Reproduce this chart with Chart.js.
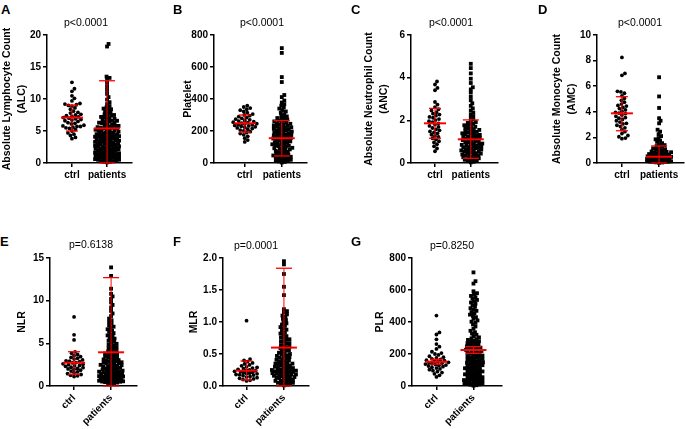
<!DOCTYPE html>
<html>
<head>
<meta charset="utf-8">
<script src="https://cdn.jsdelivr.net/npm/chart.js@4.4.0/dist/chart.umd.min.js"></script>
<style>
body { margin: 0; background: #fff; width: 685px; height: 429px; position: relative; overflow: hidden; font-family: "Liberation Sans", Arial, sans-serif; }
canvas { position: absolute; }
.letter { position: absolute; font-weight: bold; font-size: 13px; line-height: 13px; color: #000; }
.pval { position: absolute; font-size: 10.5px; line-height: 12px; color: #000; white-space: nowrap; transform: translateX(-50%); }
</style>
</head>
<body>
<script>
var groups = ['ctrl', 'patients'];

// A - Absolute Lymphocyte Count
var alcCtrl = [12.6, 11.6, 11.2, 10.5, 10.1, 9.7, 9.3, 9.2, 9.1, 9.0, 8.9, 8.6, 8.4, 8.1, 7.9, 7.8, 7.6, 7.5, 7.4, 7.3, 7.2, 7.1, 7.0, 6.9, 6.8, 6.7, 6.6, 6.5, 6.3, 6.2, 6.1, 5.9, 5.8, 5.7, 5.7, 5.6, 5.5, 5.4, 5.2, 5.0, 4.7, 4.5, 4.3, 4.0, 3.8];
var alcPatients = [0.1, 0.2, 0.3, 0.3, 0.4, 0.5, 0.6, 0.6, 0.7, 0.8, 0.8, 0.9, 0.9, 0.2, 0.5, 0.7,
  1.0, 1.1, 1.1, 1.2, 1.3, 1.3, 1.4, 1.5, 1.5, 1.6, 1.6, 1.7, 1.8, 1.8, 1.9, 1.9, 1.2, 1.4,
  2.0, 2.1, 2.1, 2.2, 2.3, 2.3, 2.4, 2.5, 2.5, 2.6, 2.6, 2.7, 2.8, 2.8, 2.9, 2.9, 2.2, 2.4,
  3.0, 3.0, 3.1, 3.2, 3.2, 3.3, 3.4, 3.4, 3.5, 3.5, 3.6, 3.6, 3.7, 3.8, 3.8, 3.9, 3.9, 3.1, 3.3, 3.7,
  4.0, 4.0, 4.1, 4.2, 4.2, 4.3, 4.3, 4.4, 4.4, 4.5, 4.5, 4.6, 4.7, 4.7, 4.8, 4.8, 4.9, 4.1, 4.3, 4.6,
  5.0, 5.1, 5.1, 5.2, 5.3, 5.4, 5.4, 5.5, 5.6, 5.6, 5.7, 5.8, 5.9, 5.2, 5.5, 5.8,
  6.0, 6.1, 6.2, 6.3, 6.4, 6.5, 6.6, 6.7, 6.8, 6.9, 6.3, 6.6,
  7.0, 7.2, 7.3, 7.5, 7.6, 7.8, 7.9, 7.1, 7.4,
  8.1, 8.3, 8.5, 8.7, 8.9, 8.4,
  9.2, 9.5, 9.9,
  10.3, 10.8, 11.4, 11.9, 12.5, 13.0, 13.3, 13.5, 18.2, 18.6];
var alcMean = [7.1, 5.4];
var alcLow = [5.0, 0];
var alcHigh = [9.05, 12.85];
var alcTicks = [0, 5, 10, 15, 20];

// B - Platelet
var pltCtrl = [358, 350, 343, 336, 330, 322, 314, 306, 300, 296, 290, 284, 279, 274, 270, 266, 262, 258, 255, 252, 249, 246, 243, 240, 238, 235, 232, 229, 226, 223, 219, 215, 211, 206, 201, 196, 190, 184, 176, 167, 155, 143, 132];
var pltPatients = [3, 7, 10, 14, 17, 20, 24, 27, 30, 33, 36, 39, 42, 45, 47, 49,
  53, 57, 60, 64, 68, 71, 75, 78, 82, 85, 89, 92, 95, 98,
  102, 105, 108, 111, 114, 117, 120, 123, 126, 129, 132, 135, 139, 142, 145, 148,
  151, 153, 156, 159, 161, 164, 167, 170, 172, 175, 178, 181, 184, 187, 190, 193, 196, 199,
  202, 205, 208, 211, 214, 217, 220, 223, 226, 229, 232, 235, 239, 242, 245, 248,
  252, 256, 260, 264, 268, 272, 276, 281, 286, 291, 296,
  305, 314, 322, 331, 340, 348,
  358, 367, 378, 390,
  412, 425, 506, 537, 688, 718];
var pltMean = [248, 155];
var pltLow = [193, 44];
var pltHigh = [300, 265];
var pltTicks = [0, 200, 400, 600, 800];

// C - Absolute Neutrophil Count
var ancCtrl = [3.82, 3.68, 3.52, 3.41, 2.86, 2.74, 2.62, 2.52, 2.46, 2.38, 2.31, 2.27, 2.22, 2.16, 2.12, 2.06, 2.01, 1.96, 1.91, 1.86, 1.8, 1.74, 1.69, 1.64, 1.58, 1.53, 1.48, 1.44, 1.39, 1.33, 1.27, 1.22, 1.16, 1.1, 1.02, 0.96, 0.88, 0.78, 0.68, 0.55];
var ancPatients = [0.03, 0.06, 0.09, 0.12, 0.15, 0.17, 0.2, 0.22, 0.25, 0.27, 0.3, 0.32, 0.34, 0.36, 0.38, 0.4, 0.42, 0.44, 0.46, 0.48,
  0.51, 0.53, 0.55, 0.57, 0.59, 0.61, 0.63, 0.65, 0.67, 0.69, 0.71, 0.73, 0.75, 0.77, 0.79, 0.81, 0.83, 0.85, 0.87, 0.89, 0.91, 0.93, 0.96, 0.98,
  1.01, 1.03, 1.05, 1.07, 1.1, 1.12, 1.14, 1.16, 1.18, 1.21, 1.23, 1.25, 1.27, 1.3, 1.32, 1.34, 1.37, 1.39, 1.42, 1.44, 1.46, 1.49,
  1.52, 1.55, 1.58, 1.61, 1.64, 1.67, 1.7, 1.74, 1.77, 1.8, 1.84, 1.88, 1.92, 1.96,
  2.04, 2.12, 2.2, 2.28, 2.36, 2.46,
  2.56, 2.68, 2.8, 2.94,
  3.1, 3.3, 3.45, 3.55, 3.75, 3.95, 4.2, 4.45, 4.65];
var ancMean = [1.86, 1.11];
var ancLow = [1.16, 0.22];
var ancHigh = [2.56, 2.02];
var ancTicks = [0, 2, 4, 6];

// D - Absolute Monocyte Count
var amcCtrl = [8.25, 7.0, 6.85, 5.6, 5.55, 5.45, 5.25, 5.05, 4.9, 4.75, 4.6, 4.5, 4.45, 4.35, 4.25, 4.15, 4.05, 3.95, 3.9, 3.85, 3.75, 3.65, 3.55, 3.5, 3.4, 3.3, 3.2, 3.1, 3.05, 2.95, 2.85, 2.75, 2.6, 2.45, 2.3, 2.15, 2.05, 1.95, 1.9];
var amcPatients = [0.02, 0.04, 0.05, 0.07, 0.08, 0.1, 0.11, 0.13, 0.14, 0.16, 0.17, 0.19, 0.2, 0.22, 0.23, 0.25, 0.26, 0.28, 0.29, 0.31, 0.32, 0.34, 0.35, 0.37, 0.38, 0.4, 0.42, 0.44, 0.46, 0.48,
  0.5, 0.52, 0.54, 0.56, 0.58, 0.6, 0.62, 0.64, 0.66, 0.68, 0.7, 0.72, 0.75, 0.78, 0.81, 0.84, 0.87, 0.9, 0.94, 0.98,
  1.03, 1.08, 1.14, 1.2, 1.26, 1.32, 1.4, 1.47,
  1.55, 1.65, 1.75, 1.85, 1.95,
  2.1, 2.25, 2.45,
  2.6, 3.1, 3.3, 3.5,
  4.3, 5.2, 6.7];
var amcMean = [3.88, 0.49];
var amcLow = [2.52, 0];
var amcHigh = [5.18, 1.33];
var amcTicks = [0, 2, 4, 6, 8, 10];

// E - NLR
var nlrCtrl = [8.1, 6.0, 5.4, 4.0, 3.85, 3.7, 3.55, 3.45, 3.35, 3.25, 3.15, 3.05, 2.95, 2.9, 2.85, 2.75, 2.7, 2.6, 2.55, 2.5, 2.4, 2.35, 2.3, 2.2, 2.15, 2.05, 2.0, 1.95, 1.85, 1.75, 1.65, 1.55, 1.45, 1.35, 1.25, 1.2, 1.1];
var nlrPatients = [0.25, 0.3, 0.35, 0.4, 0.45, 0.5, 0.52, 0.55, 0.6, 0.62, 0.65, 0.7, 0.72, 0.75, 0.78, 0.8, 0.82, 0.85, 0.88, 0.9, 0.92, 0.95, 0.97, 0.99,
  1.02, 1.05, 1.09, 1.12, 1.16, 1.2, 1.23, 1.27, 1.3, 1.34, 1.38, 1.41, 1.45, 1.49, 1.52, 1.56, 1.6, 1.64, 1.68, 1.72, 1.76, 1.8, 1.84, 1.88, 1.92, 1.96,
  2.03, 2.08, 2.13, 2.18, 2.23, 2.28, 2.33, 2.38, 2.43, 2.48, 2.53, 2.58, 2.63, 2.68, 2.73, 2.78, 2.83, 2.88, 2.93, 2.97,
  3.04, 3.11, 3.18, 3.25, 3.32, 3.39, 3.46, 3.53, 3.6, 3.67, 3.74, 3.81, 3.88, 3.95,
  4.05, 4.15, 4.25, 4.35, 4.45, 4.55, 4.65, 4.75, 4.85, 4.95,
  5.06, 5.18, 5.3, 5.42, 5.55, 5.68, 5.8, 5.93,
  6.05, 6.2, 6.35, 6.5, 6.65, 6.8, 6.95,
  7.1, 7.3, 7.5, 7.7, 7.9,
  8.2, 8.5, 8.8, 9.2, 9.5, 9.8, 10.2, 10.5, 10.8, 11.4, 12.9, 13.9];
var nlrMean = [2.73, 3.95];
var nlrLow = [1.37, 0];
var nlrHigh = [4.02, 12.7];
var nlrTicks = [0, 5, 10, 15];

// F - MLR
var mlrCtrl = [1.02, 0.42, 0.4, 0.38, 0.36, 0.345, 0.33, 0.315, 0.3, 0.29, 0.28, 0.27, 0.26, 0.25, 0.245, 0.24, 0.23, 0.22, 0.215, 0.21, 0.2, 0.195, 0.19, 0.18, 0.175, 0.17, 0.16, 0.15, 0.14, 0.13, 0.12, 0.11, 0.1, 0.09, 0.08];
var mlrPatients = [0.01, 0.02, 0.03, 0.04, 0.05, 0.05, 0.06, 0.07, 0.08, 0.08, 0.09, 0.1,
  0.11, 0.12, 0.12, 0.13, 0.14, 0.14, 0.15, 0.16, 0.16, 0.17, 0.17, 0.18, 0.18, 0.19, 0.19, 0.2,
  0.21, 0.21, 0.22, 0.22, 0.23, 0.23, 0.24, 0.24, 0.25, 0.26, 0.26, 0.27, 0.28, 0.28, 0.29, 0.3,
  0.31, 0.32, 0.32, 0.33, 0.34, 0.35, 0.35, 0.36, 0.37, 0.38, 0.39, 0.4,
  0.41, 0.42, 0.43, 0.44, 0.45, 0.46, 0.47, 0.48, 0.49, 0.5,
  0.51, 0.52, 0.54, 0.55, 0.56, 0.58, 0.59, 0.6,
  0.61, 0.63, 0.64, 0.66, 0.67, 0.69, 0.7,
  0.72, 0.73, 0.75, 0.76, 0.78, 0.8,
  0.82, 0.84, 0.86, 0.88, 0.9,
  0.92, 0.94, 0.96, 0.98, 1.0,
  1.03, 1.05, 1.08, 1.1, 1.12, 1.15, 1.17, 1.2,
  1.42, 1.55, 1.75, 1.9, 1.95];
var mlrMean = [0.24, 0.6];
var mlrLow = [0.094, 0];
var mlrHigh = [0.39, 1.84];
var mlrTicks = [0, 0.5, 1, 1.5, 2];
var mlrTickLabels = ['0.0', '0.5', '1.0', '1.5', '2.0'];

// G - PLR
var plrCtrl = [440, 335, 322, 292, 262, 246, 232, 214, 206, 200, 194, 186, 180, 175, 170, 166, 161, 158, 155, 151, 148, 145, 142, 139, 137, 134, 131, 128, 125, 121, 117, 112, 107, 102, 96, 90, 84, 76, 67, 57];
var plrPatients = [2, 5, 8, 10, 13, 15, 18, 21, 24, 26, 29, 32, 35, 37, 40, 43, 46, 49,
  52, 55, 58, 61, 64, 67, 70, 73, 76, 79, 82, 85, 88, 91, 94, 98,
  102, 105, 108, 111, 114, 117, 120, 123, 127, 130, 133, 136, 139, 142, 145, 148,
  152, 155, 159, 162, 166, 169, 173, 176, 180, 183, 187, 190, 194, 198,
  202, 205, 209, 212, 216, 219, 223, 226, 230, 233, 237, 240, 244, 248,
  252, 256, 260, 264, 268, 272, 276, 280, 284, 288, 293, 298,
  304, 312, 320, 328, 336, 345,
  358, 372, 385, 395,
  402, 410, 420, 430, 438, 446,
  455, 462, 470, 478, 486, 495,
  505, 514, 522, 530, 538, 546,
  555, 563, 572, 580, 592,
  640, 655, 710];
var plrMean = [152, 225];
var plrLow = [137, 204];
var plrHigh = [167, 246];
var plrTicks = [0, 200, 400, 600, 800];

// layout of the seven panels (page pixels)
var panels = [
  { letter: 'A', lx: 1, ly: 3, pText: 'p<0.0001', px: 86, py: 16, title: ['Absolute Lymphocyte Count', '(ALC)'], titleX: 7,
    axisX: 47, right: 132, top: 35, bottom: 163, xMin: 0.29, xMax: 2.71, rot: 0, xh: 30,
    ctrl: alcCtrl, pat: alcPatients, mean: alcMean, low: alcLow, high: alcHigh, ticks: alcTicks },
  { letter: 'B', lx: 173, ly: 3, pText: 'p<0.0001', px: 262, py: 16, title: 'Platelet', titleX: 188,
    axisX: 214, right: 307, top: 35, bottom: 163, xMin: 0.17, xMax: 2.68, rot: 0, xh: 30,
    ctrl: pltCtrl, pat: pltPatients, mean: pltMean, low: pltLow, high: pltHigh, ticks: pltTicks },
  { letter: 'C', lx: 351, ly: 3, pText: 'p<0.0001', px: 451, py: 16, title: ['Absolute Neutrophil Count', '(ANC)'], titleX: 369,
    axisX: 411, right: 498, top: 35, bottom: 163, xMin: 0.33, xMax: 2.76, rot: 0, xh: 30,
    ctrl: ancCtrl, pat: ancPatients, mean: ancMean, low: ancLow, high: ancHigh, ticks: ancTicks },
  { letter: 'D', lx: 538, ly: 3, pText: 'p<0.0001', px: 640, py: 16, title: ['Absolute Monocyte Count', '(AMC)'], titleX: 557,
    axisX: 597, right: 684, top: 35, bottom: 163, xMin: 0.33, xMax: 2.67, rot: 0, xh: 30,
    ctrl: amcCtrl, pat: amcPatients, mean: amcMean, low: amcLow, high: amcHigh, ticks: amcTicks },
  { letter: 'E', lx: 0, ly: 235, pText: 'p=0.6138', px: 91, py: 238, title: 'NLR', titleX: 22,
    axisX: 50, right: 137, top: 258, bottom: 386, xMin: 0.35, xMax: 2.7, rot: 45, xh: 42,
    ctrl: nlrCtrl, pat: nlrPatients, mean: nlrMean, low: nlrLow, high: nlrHigh, ticks: nlrTicks },
  { letter: 'F', lx: 173, ly: 235, pText: 'p=0.0001', px: 256, py: 239, title: 'MLR', titleX: 194,
    axisX: 223, right: 309, top: 258, bottom: 386, xMin: 0.37, xMax: 2.67, rot: 45, xh: 42,
    ctrl: mlrCtrl, pat: mlrPatients, mean: mlrMean, low: mlrLow, high: mlrHigh, ticks: mlrTicks, tickLabels: mlrTickLabels },
  { letter: 'G', lx: 351, ly: 235, pText: 'p=0.8250', px: 452, py: 239, title: 'PLR', titleX: 380,
    axisX: 412, right: 502, top: 258, bottom: 386, xMin: 0.34, xMax: 2.77, rot: 45, xh: 42,
    ctrl: plrCtrl, pat: plrPatients, mean: plrMean, low: plrLow, high: plrHigh, ticks: plrTicks }
];

Chart.defaults.font.family = '"Liberation Sans", Arial, sans-serif';
Chart.defaults.color = '#000';

// spread points sideways (column scatter); where the column is full, points overlap
function swarm(values, center, pxY, pxX, d, maxW) {
  var idx = values.map(function(v, i) { return i; });
  idx.sort(function(a, b) { return values[a] - values[b]; });
  var placed = [], out = [];
  idx.forEach(function(i) {
    var y = values[i] * pxY, best = null, bestGap = -1;
    for (var k = 0; k <= maxW * 4; k++) {
      var off = (k % 2 ? 1 : -1) * Math.ceil(k / 2) * 0.5;
      var gap = Infinity;
      for (var j = placed.length - 1; j >= 0; j--) {
        var dy = placed[j].y - y;
        if (Math.abs(dy) >= d) continue;
        var dx = placed[j].x - off;
        gap = Math.min(gap, Math.sqrt(dx * dx + dy * dy));
      }
      if (gap >= d) { best = off; break; }
      if (gap > bestGap + 0.3) { bestGap = gap; best = off; }
    }
    placed.push({ x: best, y: y });
    out.push({ x: center + best / pxX, y: values[i] });
  });
  return out;
}

function redLine(pts, w) {
  return { data: pts, showLine: true, borderColor: '#ff0000', borderWidth: w, pointRadius: 0, order: 0, clip: false };
}

function drawPanel(p) {
  var lineH = 14.5;
  var cl = Math.round(p.titleX - lineH / 2);
  var ct = p.top - 10;
  var cw = p.right - cl + 6;
  var ch = p.bottom - ct + p.xh;
  var canvas = document.createElement('canvas');
  canvas.width = cw; canvas.height = ch;
  canvas.style.left = cl + 'px'; canvas.style.top = ct + 'px';
  canvas.style.width = cw + 'px'; canvas.style.height = ch + 'px';
  document.body.appendChild(canvas);

  var ymax = p.ticks[p.ticks.length - 1];
  var pxY = (p.bottom - p.top) / ymax;
  var pxX = (p.right - p.axisX) / (p.xMax - p.xMin);

  var datasets = [];
  [0, 1].forEach(function(g) {
    var x = g + 1;
    var mw = (g ? 13 : 11) / pxX, cw2 = (g ? 8 : 6) / pxX;
    datasets.push(redLine([{ x: x - mw, y: p.mean[g] }, { x: x + mw, y: p.mean[g] }], 2));
    datasets.push(redLine([{ x: x, y: p.low[g] }, { x: x, y: p.high[g] }], 1));
    datasets.push(redLine([{ x: x - cw2, y: p.high[g] }, { x: x + cw2, y: p.high[g] }], 1.3));
    datasets.push(redLine([{ x: x - cw2, y: p.low[g] }, { x: x + cw2, y: p.low[g] }], 1.3));
  });
  datasets.push({ data: swarm(p.ctrl, 1, pxY, pxX, 3.4, 12), pointStyle: 'circle', pointRadius: 1.9,
    backgroundColor: '#000', borderWidth: 0, showLine: false, order: 1, clip: false });
  datasets.push({ data: swarm(p.pat, 2, pxY, pxX, 2.9, 12), pointStyle: 'rect', pointRadius: 2.7,
    backgroundColor: '#000', borderWidth: 0, showLine: false, order: 1, clip: false });

  new Chart(canvas, {
    type: 'scatter',
    data: { datasets: datasets },
    options: {
      responsive: false,
      animation: false,
      devicePixelRatio: 1,
      layout: { padding: { left: 0, top: 10, right: 6, bottom: 0 } },
      plugins: { legend: { display: false }, tooltip: { enabled: false } },
      scales: {
        x: {
          type: 'linear', min: p.xMin, max: p.xMax,
          afterBuildTicks: function(s) { s.ticks = [{ value: 1 }, { value: 2 }]; },
          afterFit: function(s) { s.height = p.xh; },
          ticks: { callback: function(v) { return groups[v - 1]; }, font: { size: 10, weight: 'bold' }, color: '#000',
            padding: 2, autoSkip: false, minRotation: p.rot, maxRotation: p.rot },
          grid: { display: true, drawOnChartArea: false, drawTicks: true, tickLength: 4, color: '#000', lineWidth: 1.5 },
          border: { display: true, color: '#000', width: 1.5 }
        },
        y: {
          type: 'linear', min: 0, max: ymax,
          afterBuildTicks: function(s) { s.ticks = p.ticks.map(function(v) { return { value: v }; }); },
          afterFit: function(s) { s.width = p.axisX - cl; },
          ticks: { callback: function(v, i) { return p.tickLabels ? p.tickLabels[i] : v; }, font: { size: 10, weight: 'bold' }, color: '#000', padding: 2 },
          grid: { display: true, drawOnChartArea: false, drawTicks: true, tickLength: 4, color: '#000', lineWidth: 1.5 },
          border: { display: true, color: '#000', width: 1.5 },
          title: { display: true, text: p.title, font: { size: 10.5, weight: 'bold', lineHeight: lineH / 10.5 }, color: '#000', padding: 0 }
        }
      }
    }
  });

  var l = document.createElement('div');
  l.className = 'letter';
  l.textContent = p.letter;
  l.style.left = p.lx + 'px'; l.style.top = p.ly + 'px';
  document.body.appendChild(l);

  var t = document.createElement('div');
  t.className = 'pval';
  t.textContent = p.pText;
  t.style.left = p.px + 'px'; t.style.top = p.py + 'px';
  document.body.appendChild(t);
}

panels.forEach(drawPanel);
</script>
</body>
</html>
